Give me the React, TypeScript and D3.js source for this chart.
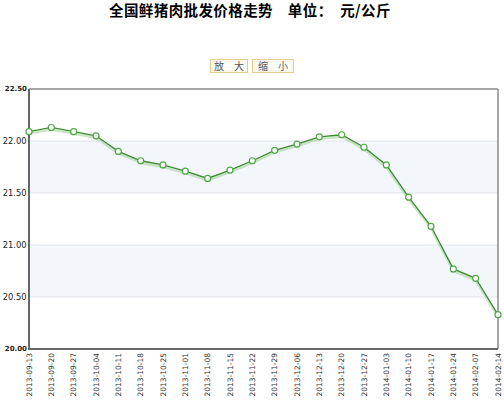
import React from "react";
import * as d3 from "d3";

const dates = [
  "2013-09-13", "2013-09-20", "2013-09-27", "2013-10-04", "2013-10-11", "2013-10-18",
  "2013-10-25", "2013-11-01", "2013-11-08", "2013-11-15", "2013-11-22", "2013-11-29",
  "2013-12-06", "2013-12-13", "2013-12-20", "2013-12-27", "2014-01-03", "2014-01-10",
  "2014-01-17", "2014-01-24", "2014-02-07", "2014-02-14",
];
const prices = [
  22.09, 22.13, 22.09, 22.05, 21.9, 21.81, 21.77, 21.71, 21.64, 21.72, 21.81, 21.91,
  21.97, 22.04, 22.06, 21.94, 21.77, 21.46, 21.18, 20.77, 20.68, 20.33,
];
const yTicks = [20, 20.5, 21, 21.5, 22, 22.5];
const bands = [[21.5, 22], [20.5, 21]];
const titleText = "全国鲜猪肉批发价格走势　单位：　元/公斤";
const buttons = ["放　大", "缩　小"];

export default function App() {
  const W = 504, H = 400;
  const left = 29, right = 498, top = 89, bottom = 349;
  const x = d3.scalePoint<string>().domain(dates).range([left, right]);
  const y = d3.scaleLinear().domain([20, 22.5]).range([bottom, top]);
  const line = d3.line<number>().x((_, i) => x(dates[i])!).y((d) => y(d));
  const shadow = d3.line<number>().x((_, i) => x(dates[i])!).y((d) => y(d) + 2);
  const font = "'DejaVu Sans', Verdana, sans-serif";
  const btnX = [210, 252];
  const btnW = [38, 42];

  return (
    <svg width={W} height={H} style={{ position: "absolute", left: 0, top: 0, background: "#fff" }}>
      <text x={250} y={16} textAnchor="middle" fontSize={14.5} fontWeight="bold" letterSpacing={0.4}
        fontFamily="'Noto Sans CJK SC', sans-serif" fill="#000">{titleText}</text>
      {buttons.map((b, i) => (
        <g key={b}>
          <rect x={btnX[i] + 0.5} y={59.5} width={btnW[i] - 1} height={13} fill="#fff" stroke="#e2cf8e" strokeWidth={1} />
          <rect x={btnX[i] + 2} y={61} width={btnW[i] - 4} height={10} fill="#fdfdf8" stroke="#f3ead0" strokeWidth={0.8} />
          <text x={btnX[i] + btnW[i] / 2} y={70} textAnchor="middle" fontSize={10}
            fontFamily="'Noto Sans CJK SC', sans-serif" fill="#555">{b}</text>
        </g>
      ))}
      {bands.map(([a, b]) => (
        <rect key={a} x={left} y={y(b)} width={right - left} height={y(a) - y(b)} fill="#f3f7fc" />
      ))}
      {yTicks.slice(1, -1).map((t) => (
        <line key={t} x1={left} x2={right} y1={y(t)} y2={y(t)} stroke="#dfe3e8" strokeWidth={1} />
      ))}
      <line x1={left} x2={right} y1={top} y2={top} stroke="#8a8a8a" strokeWidth={1.5} />
      <line x1={right} x2={right} y1={top} y2={bottom} stroke="#8a8a8a" strokeWidth={1.5} />
      <line x1={left} x2={left} y1={top} y2={bottom + 1} stroke="#666" strokeWidth={2} />
      <line x1={left} x2={right} y1={bottom} y2={bottom} stroke="#666" strokeWidth={2} />
      {yTicks.map((t, i) => {
        const edge = i === 0 || i === yTicks.length - 1;
        return (
          <text key={t} x={edge ? 27 : 26.5} y={y(t)} dy="0.35em" textAnchor="end" fontSize={edge ? 7 : 8.3}
            fontWeight={edge ? "bold" : "normal"} fontFamily={font} fill="#222">{t.toFixed(2)}</text>
        );
      })}
      {dates.map((d) => (
        <text key={d} transform={`translate(${x(d)! + 2.8},353) rotate(-90)`} textAnchor="end"
          fontSize={7.5} fontFamily={font} fill="#333">{d}</text>
      ))}
      <path d={shadow(prices)!} fill="none" stroke="#9fd197" strokeWidth={2.5} opacity={0.55} />
      <path d={line(prices)!} fill="none" stroke="#3f8a34" strokeWidth={1.3} />
      {prices.map((p, i) => (
        <circle key={i} cx={x(dates[i])} cy={y(p)} r={3} fill="#fff" stroke="#4fa845" strokeWidth={1.2} />
      ))}
    </svg>
  );
}
